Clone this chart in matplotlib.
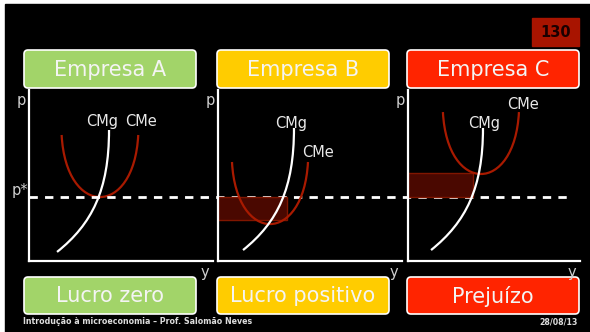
import numpy as np
import matplotlib
matplotlib.use('Agg')
import matplotlib.pyplot as plt
from matplotlib.patches import FancyBboxPatch, Rectangle, PathPatch
from matplotlib.path import Path
from matplotlib.transforms import blended_transform_factory

# -----------------------
# Data
# -----------------------
headers = ['Empresa A', 'Empresa B', 'Empresa C']
results = ['Lucro zero', 'Lucro positivo', 'Prejuízo']
box_colors = ['#A2D469', '#FFCC00', '#FF2400']

p_star = 3.74   # common market price (panel units, 0..10)

# cubic bezier control points (quantity, price) for each firm, panel units 0..10
cmg_q = [[1.51, 3.41, 4.34, 4.34], [1.36, 3.26, 4.13, 4.13], [1.34, 3.37, 4.36, 4.36]]
cmg_p = [[0.53, 2.16, 4.15, 7.66], [0.64, 2.28, 4.27, 7.78], [0.64, 2.28, 4.27, 7.78]]
cme_q = [[1.76, 2.00, 5.70, 5.93], [0.76, 1.00, 4.65, 4.89], [2.03, 2.28, 6.20, 6.45]]
cme_p = [[7.37, 2.53, 2.53, 7.37], [5.79, 0.95, 0.95, 5.79], [8.71, 3.88, 3.88, 8.71]]

# profit / loss rectangle: quantity end, average cost level (None = no area)
rect_q = [None, 3.75, 3.78]
rect_cme = [None, 2.40, 5.13]

# curve label positions (quantity, price)
lbl_cmg = [(3.96, 8.13), (3.97, 8.07), (4.42, 8.07)]
lbl_cme = [(6.09, 8.13), (5.43, 6.32), (6.69, 9.18)]

# -----------------------
# Figure / background in pixel coords
# -----------------------
W, H = 590, 332
fig = plt.figure(figsize=(W / 100, H / 100), dpi=100, facecolor='white')
bg = fig.add_axes([0, 0, 1, 1])
bg.set_xlim(0, W)
bg.set_ylim(H, 0)
bg.axis('off')
bg.add_patch(Rectangle((5, 4), W - 5, H - 4, color='black', zorder=0))

# slide number badge
bg.add_patch(Rectangle((532, 18), 47, 28, color='#A81400', zorder=1))
bg.text(555.5, 32.5, '130', ha='center', va='center', fontsize=10.5,
        fontweight='bold', color='#1A0000', zorder=2)

panel_x = [(29.3, 213.0), (218.0, 402.0), (408.0, 580.0)]
box_x = [(24, 196), (217, 389), (407, 579)]
ax_top, ax_bot = 90, 261


def rounded_box(x0, x1, y0, y1, color, label):
    bg.add_patch(FancyBboxPatch((x0, y0), x1 - x0, y1 - y0,
                                boxstyle='round,pad=0,rounding_size=4',
                                fc=color, ec='white', lw=1.2, zorder=2))
    bg.text((x0 + x1) / 2, (y0 + y1) / 2 + 1, label, ha='center', va='center',
            fontsize=15, color='#F4F4F4', zorder=3)


for i in range(3):
    rounded_box(box_x[i][0], box_x[i][1], 50, 88, box_colors[i], headers[i])
    rounded_box(box_x[i][0], box_x[i][1], 277, 314, box_colors[i], results[i])

# axis letters
for i in range(3):
    x0, x1 = panel_x[i]
    bg.text(x0 - 8, 101, 'p', ha='center', va='center', fontsize=10.5, color='#D0D0D0')
    bg.text(x1 - 8, 272, 'y', ha='center', va='center', fontsize=10.5, color='#D0D0D0')
bg.text(20, 191, 'p*', ha='center', va='center', fontsize=10.5, color='#D0D0D0')

# footer
bg.text(23, 322, 'Introdução à microeconomia – Prof. Salomão Neves', ha='left',
        va='center', fontsize=5.7, fontweight='bold', color='#DDDDDD')
bg.text(578, 322, '28/08/13', ha='right', va='center', fontsize=5.7,
        fontweight='bold', color='#DDDDDD')

# -----------------------
# Panels
# -----------------------
codes = [Path.MOVETO, Path.CURVE4, Path.CURVE4, Path.CURVE4]
axes = []
for i in range(3):
    x0, x1 = panel_x[i]
    ax = fig.add_axes([x0 / W, (H - ax_bot) / H, (x1 - x0) / W, (ax_bot - ax_top) / H])
    ax.set_xlim(0, 10)
    ax.set_ylim(0, 10)
    ax.patch.set_alpha(0)
    for s in ['top', 'right']:
        ax.spines[s].set_visible(False)
    for s in ['left', 'bottom']:
        ax.spines[s].set_color('white')
        ax.spines[s].set_linewidth(1.6)
    ax.set_xticks([])
    ax.set_yticks([])

    if rect_q[i] is not None:
        lo, hi = sorted([p_star, rect_cme[i]])
        ax.add_patch(Rectangle((0, lo), rect_q[i], hi - lo, fc='#4A0800',
                               ec='#801600', lw=1.0, zorder=1, clip_on=False))

    cme = Path(np.column_stack([cme_q[i], cme_p[i]]), codes)
    ax.add_patch(PathPatch(cme, fill=False, ec='#A81A00', lw=1.6, zorder=3))
    cmg = Path(np.column_stack([cmg_q[i], cmg_p[i]]), codes)
    ax.add_patch(PathPatch(cmg, fill=False, ec='white', lw=1.6, zorder=4))

    ax.text(*lbl_cmg[i], 'CMg', ha='center', va='center', fontsize=10.5, color='#E8E8E8')
    ax.text(*lbl_cme[i], 'CMe', ha='center', va='center', fontsize=10.5, color='#E8E8E8')
    axes.append(ax)

# dashed market price line across all panels
tr = blended_transform_factory(bg.transData, axes[0].transData)
axes[0].plot([29.3, 573], [p_star, p_star], transform=tr, color='white', lw=2.0,
             dashes=(3.0, 2.6), clip_on=False, zorder=5)

fig.savefig('out.png', dpi=100, facecolor='white')
